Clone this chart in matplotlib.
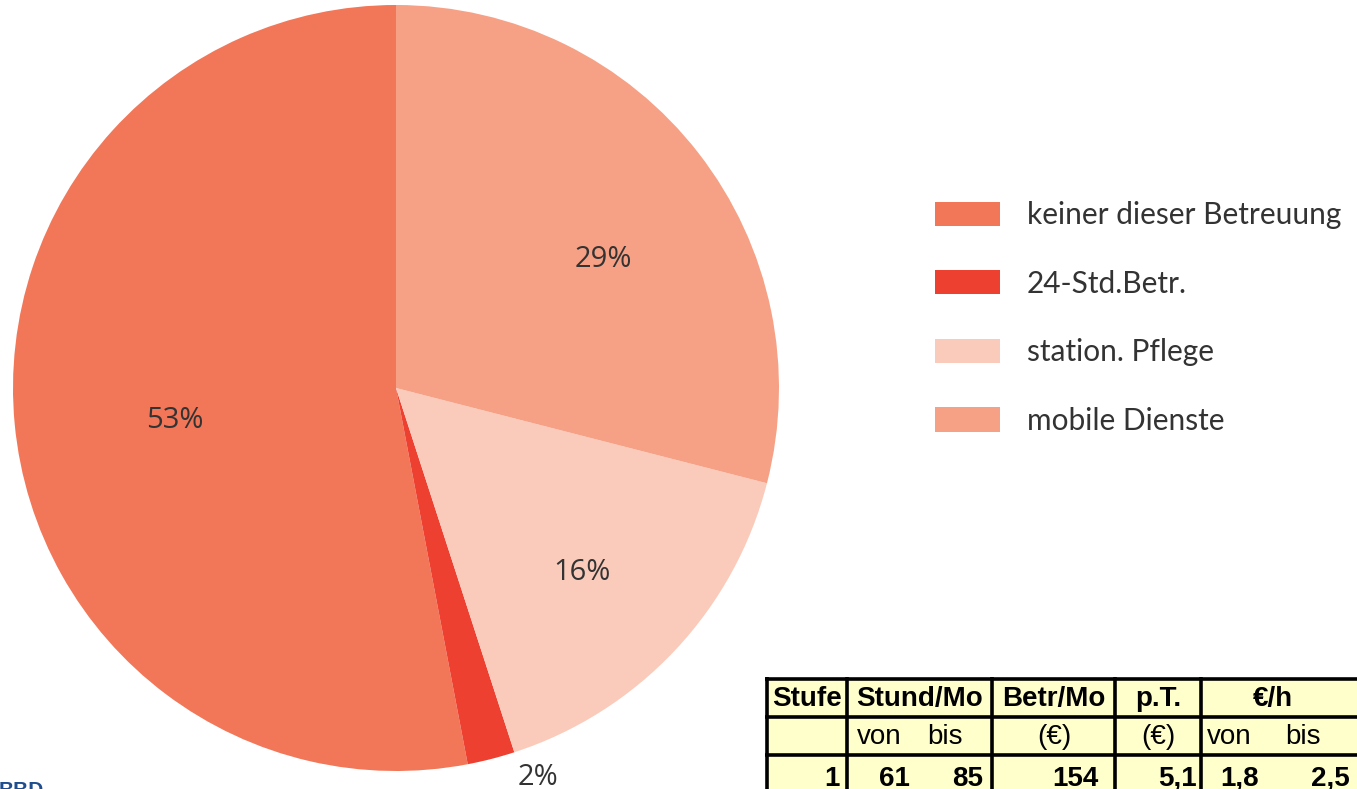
import numpy as np
import matplotlib.pyplot as plt
from matplotlib.patches import Patch, Rectangle
from matplotlib.transforms import offset_copy

# pie data
labels = ["keiner dieser Betreuung", "24-Std.Betr.", "station. Pflege", "mobile Dienste"]
values = [53, 2, 16, 29]
colors = ["#F27658", "#EE4030", "#FACBBA", "#F6A185"]

# table data
header = ["Stufe", "Stund/Mo", "Betr/Mo", "p.T.", "€/h"]
sub_header = ["", "von", "bis", "(€)", "(€)", "von", "bis"]
row1 = ["1", "61", "85", "154", "5,1", "1,8", "2,5"]

text_col = "#333333"
pie_font = ["Open Sans", "DejaVu Sans"]
leg_font = ["Lato", "DejaVu Sans"]

W, H = 1357, 789
fig = plt.figure(figsize=(W / 100, H / 100), dpi=100)

# pie
cx, cy, R = 396, 388, 383
ax = fig.add_axes([(cx - R) / W, (H - cy - R) / H, 2 * R / W, 2 * R / H])
wedges, _ = ax.pie(values, colors=colors, startangle=90, counterclock=True,
                   wedgeprops=dict(linewidth=0))
ax.set_xlim(-1, 1)
ax.set_ylim(-1, 1)
ax.set_aspect("equal")
ax.axis("off")

label_r = [0.582, 1.075, 0.679, 0.641]
label_shift = [2.1, 5.8, -1.2, -5.3]
lab_tr = offset_copy(ax.transData, fig=fig, x=0, y=-3, units="dots")
for w, v, r, s in zip(wedges, values, label_r, label_shift):
    ang = np.deg2rad((w.theta1 + w.theta2) / 2 + s)
    ax.text(r * np.cos(ang), r * np.sin(ang), f"{v}%", ha="center", va="center",
            fontsize=21, color=text_col, family=pie_font, clip_on=False,
            transform=lab_tr)

# legend
handles = [Patch(facecolor=c, edgecolor="none") for c in colors]
fig.legend(handles, labels, loc="upper left", bbox_to_anchor=(935 / W, 1 - 201 / H),
           frameon=False, borderpad=0, borderaxespad=0,
           handlelength=2.17, handleheight=0.87, handletextpad=0.9,
           labelspacing=1.36, labelcolor=text_col, prop=dict(family=leg_font, size=21.5))

# table drawn in pixel coords
tx = fig.add_axes([0, 0, 1, 1])
tx.set_xlim(0, W)
tx.set_ylim(H, 0)
tx.axis("off")

xs = [767, 847, 992, 1115, 1201, 1375]
ys = [679, 717, 755, 800]
tx.add_patch(Rectangle((xs[0], ys[0]), xs[-1] - xs[0], ys[-1] - ys[0],
                       facecolor="#FFFFCC", edgecolor="none", clip_on=False))
for y in ys[:3]:
    tx.plot([xs[0] - 2, xs[-1]], [y, y], color="black", lw=2.6, solid_capstyle="butt", clip_on=False)
for x in xs[:5]:
    tx.plot([x, x], [ys[0] - 2, ys[-1]], color="black", lw=2.6, solid_capstyle="butt", clip_on=False)

tf = ["Liberation Sans", "Arial", "DejaVu Sans"]
# header row
hx = [(xs[i] + xs[i + 1]) / 2 for i in range(4)] + [1273]
for t, x in zip(header, hx):
    tx.text(x, 699, t, ha="center", va="center", fontsize=20, weight="bold", family=tf)
# sub header
sub_pos = [(807, "center"), (857, "left"), (927, "left"), (1054, "center"),
           (1158, "center"), (1207, "left"), (1285, "left")]
for t, (x, a) in zip(sub_header, sub_pos):
    tx.text(x, 737, t, ha=a, va="center", fontsize=20, family=tf)
# first data row
row_pos = [(840, "right"), (910, "right"), (983, "right"), (1099, "right"),
           (1197, "right"), (1259, "right"), (1350, "right")]
for t, (x, a) in zip(row1, row_pos):
    tx.text(x, 786, t, ha=a, va="baseline", fontsize=20, weight="bold", family=tf,
            clip_on=False)

tx.text(-1, 796, "BBD", ha="left", va="baseline", fontsize=15, weight="bold",
        color="#1F4E8F", family=tf)

fig.savefig("out.png", dpi=100)
